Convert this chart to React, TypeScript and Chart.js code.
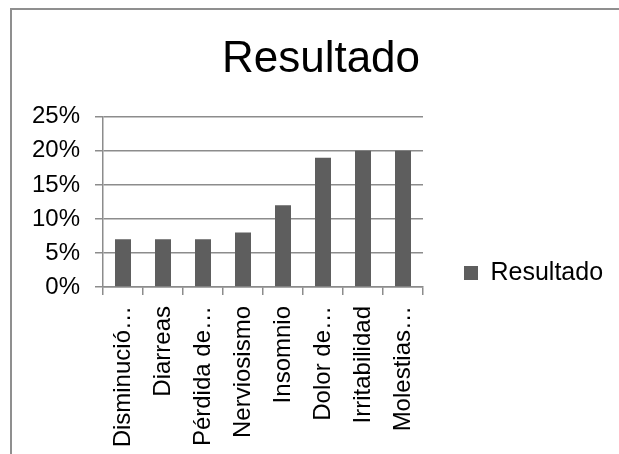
import React, { useEffect, useRef } from "react";
import { Chart, registerables } from "chart.js";

Chart.register(...registerables);

const chartTitle = "Resultado";
const seriesName = "Resultado";
const categories = [
  "Disminució…",
  "Diarreas",
  "Pérdida de…",
  "Nerviosismo",
  "Insomnio",
  "Dolor de…",
  "Irritabilidad",
  "Molestias…",
];
const values = [0.07, 0.07, 0.07, 0.08, 0.12, 0.19, 0.2, 0.2];
const yMin = 0;
const yMax = 0.25;
const yStep = 0.05;

const CANVAS_W = 618;
const CANVAS_H = 526;
const Y_AXIS_W = 91;
const LEGEND_W = 207;
const X_AXIS_H = 249;

const FONT = "'Liberation Sans', Arial, Helvetica, sans-serif";
const BAR_COLOR = "#5e5e5e";
const GRID_COLOR = "#8c8c8c";

const legendWidthPlugin = {
  id: "legendWidth",
  beforeLayout(chart: any) {
    const lg = chart.legend;
    if (lg && !lg.__patched) {
      const orig = lg.fit.bind(lg);
      lg.fit = function () {
        orig();
        this.width = LEGEND_W;
      };
      lg.__patched = true;
    }
  },
};

export default function App() {
  const ref = useRef<HTMLCanvasElement | null>(null);

  useEffect(() => {
    if (!ref.current) return;
    Chart.defaults.font.family = FONT;
    Chart.defaults.color = "#000";
    const chart = new Chart(ref.current, {
      type: "bar",
      data: {
        labels: categories,
        datasets: [
          {
            label: seriesName,
            data: values,
            backgroundColor: BAR_COLOR,
            borderWidth: 0,
            barPercentage: 0.4,
            categoryPercentage: 1,
          },
        ],
      },
      plugins: [legendWidthPlugin],
      options: {
        responsive: false,
        animation: false,
        devicePixelRatio: window.devicePixelRatio || 1,
        layout: { padding: 0 },
        plugins: {
          title: {
            display: true,
            text: chartTitle,
            color: "#000",
            font: { size: 44, weight: "normal", family: FONT },
            padding: { top: 23, bottom: 31 },
          },
          legend: {
            display: true,
            position: "right",
            labels: {
              boxWidth: 14,
              boxHeight: 14,
              padding: 41,
              color: "#000",
              font: { size: 25, family: FONT },
            },
          },
          tooltip: { enabled: false },
        },
        scales: {
          x: {
            afterFit(scale: any) {
              scale.height = X_AXIS_H;
            },
            grid: {
              display: true,
              drawOnChartArea: false,
              drawTicks: true,
              tickLength: 8,
              offset: true,
              color: GRID_COLOR,
              lineWidth: 1.5,
            },
            border: { display: true, color: GRID_COLOR, width: 1.5 },
            ticks: {
              autoSkip: false,
              maxRotation: 90,
              minRotation: 90,
              padding: 11,
              color: "#000",
              font: { size: 24, family: FONT },
            },
          },
          y: {
            min: yMin,
            max: yMax,
            afterFit(scale: any) {
              scale.width = Y_AXIS_W;
            },
            grid: {
              display: true,
              drawTicks: true,
              tickLength: 8,
              color: GRID_COLOR,
              lineWidth: 1.5,
            },
            border: { display: true, color: GRID_COLOR, width: 1.5 },
            ticks: {
              stepSize: yStep,
              padding: 15,
              color: "#000",
              font: { size: 24, family: FONT },
              callback: (v: any) => `${Math.round(Number(v) * 100)}%`,
            },
          },
        },
      },
    });
    return () => chart.destroy();
  }, []);

  return (
    <div
      style={{
        position: "fixed",
        left: 0,
        top: 0,
        width: 619,
        height: 454,
        overflow: "hidden",
        background: "#fff",
      }}
    >
      <div
        style={{
          position: "absolute",
          left: 10,
          top: 8,
          width: CANVAS_W,
          height: CANVAS_H,
          border: "2px solid #8f8f8f",
          background: "#fff",
        }}
      >
        <canvas
          ref={ref}
          width={CANVAS_W}
          height={CANVAS_H}
          style={{ display: "block", width: CANVAS_W, height: CANVAS_H }}
        />
      </div>
    </div>
  );
}
